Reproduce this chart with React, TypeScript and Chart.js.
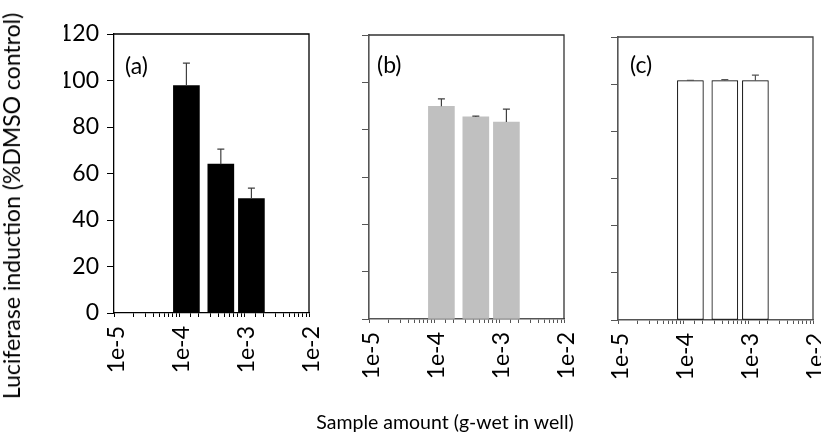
import React, { useEffect, useRef } from "react";
import { Chart, registerables } from "chart.js";

Chart.register(...registerables);

// ---- data ----
const sampleAmounts = [1.3e-4, 4.4e-4, 1.3e-3];
const panelLabels = ["(a)", "(b)", "(c)"];
const valuesA = [97.8, 64.0, 49.2];
const errorsA = [9.7, 6.5, 4.5];
const valuesB = [89.9, 85.4, 83.2];
const errorsB = [3.1, 0.3, 5.5];
const valuesC = [101.5, 101.5, 101.5];
const errorsC = [0.1, 0.4, 2.3];
const xTickValues = [1e-5, 1e-4, 1e-3, 1e-2];
const xTickLabels = ["1e-5", "1e-4", "1e-3", "1e-2"];
const yMin = 0;
const yMax = 120;
const yStep = 20;
const xTitle = "Sample amount (g-wet in well)";
const yTitle = "Luciferase induction (%DMSO control)";

const FONT = "Lato, 'Open Sans', sans-serif";

type PanelCfg = {
  values: number[];
  errors: number[];
  fill: string;
  border: string;
  borderWidth: number;
  axisColor: string;
  axisWidth: number;
  frameColor: string;
  errColor: string;
  showYLabels: boolean;
  padding: { left: number; right: number; top: number; bottom: number };
};

const panels: PanelCfg[] = [
  {
    values: valuesA, errors: errorsA, fill: "#000000", border: "#000000", borderWidth: 0,
    axisColor: "#000000", axisWidth: 1.3, frameColor: "#000000", errColor: "#404040", showYLabels: true,
    padding: { left: 64, right: 512, top: 34, bottom: 63 },
  },
  {
    values: valuesB, errors: errorsB, fill: "#c0c0c0", border: "#c0c0c0", borderWidth: 0,
    axisColor: "#555555", axisWidth: 1.6, frameColor: "#333333", errColor: "#404040", showYLabels: false,
    padding: { left: 319, right: 257, top: 35, bottom: 57 },
  },
  {
    values: valuesC, errors: errorsC, fill: "#ffffff", border: "#000000", borderWidth: 1,
    axisColor: "#555555", axisWidth: 1.6, frameColor: "#444444", errColor: "#555555", showYLabels: false,
    padding: { left: 568, right: 8, top: 37, bottom: 56 },
  },
];

function isPow10(v: number) {
  const l = Math.log10(v);
  return Math.abs(l - Math.round(l)) < 1e-9;
}

function Panel({ cfg }: { cfg: PanelCfg }) {
  const ref = useRef<HTMLCanvasElement>(null);
  useEffect(() => {
    const canvas = ref.current!;
    const frame = {
      id: "frame",
      afterDraw(chart: any) {
        const { ctx, chartArea: a } = chart;
        ctx.save();
        ctx.strokeStyle = cfg.frameColor;
        ctx.lineWidth = 1.3;
        ctx.beginPath();
        ctx.moveTo(a.left, a.top);
        ctx.lineTo(a.right, a.top);
        ctx.lineTo(a.right, a.bottom);
        ctx.stroke();
        ctx.restore();
      },
    };
    const errorBars = {
      id: "errorBars",
      afterDatasetsDraw(chart: any) {
        const { ctx } = chart;
        const yScale = chart.scales.y;
        const meta = chart.getDatasetMeta(0);
        ctx.save();
        ctx.strokeStyle = cfg.errColor;
        ctx.lineWidth = 1.2;
        meta.data.forEach((bar: any, i: number) => {
          const v = cfg.values[i];
          const e = cfg.errors[i];
          const x = bar.x;
          const y0 = yScale.getPixelForValue(v);
          const y1 = yScale.getPixelForValue(v + e);
          ctx.beginPath();
          ctx.moveTo(x, y0);
          ctx.lineTo(x, y1);
          ctx.moveTo(x - 3.5, y1);
          ctx.lineTo(x + 3.5, y1);
          ctx.stroke();
        });
        ctx.restore();
      },
    };
    const chart = new Chart(canvas, {
      type: "bar",
      data: {
        datasets: [
          {
            data: sampleAmounts.map((x, i) => ({ x, y: cfg.values[i] })),
            backgroundColor: cfg.fill,
            borderColor: cfg.border,
            borderWidth: cfg.borderWidth,
            borderSkipped: false,
            barThickness: 26,
          } as any,
        ],
      },
      options: {
        responsive: false,
        animation: false,
        layout: { padding: cfg.padding },
        plugins: { legend: { display: false }, tooltip: { enabled: false }, title: { display: false } },
        scales: {
          x: {
            type: "logarithmic",
            min: xTickValues[0],
            max: xTickValues[xTickValues.length - 1],
            offset: false,
            grid: { display: true, drawOnChartArea: false, drawTicks: true, tickLength: 4, tickColor: cfg.axisColor, offset: false },
            border: { display: true, color: cfg.axisColor, width: cfg.axisWidth },
            ticks: {
              autoSkip: false,
              minRotation: 90,
              maxRotation: 90,
              padding: 9,
              labelOffset: 3,
              color: "#000",
              font: { family: FONT, size: 23 },
              callback: (v: any) => {
                const n = Number(v);
                if (!isPow10(n)) return "";
                const idx = xTickValues.findIndex((t) => Math.abs(Math.log10(t) - Math.log10(n)) < 1e-9);
                return idx >= 0 ? xTickLabels[idx] : "";
              },
            },
            afterFit: (s: any) => {
              s.height = 60;
              s.paddingLeft = 0;
              s.paddingRight = 0;
            },
          } as any,
          y: {
            type: "linear",
            min: yMin,
            max: yMax,
            grid: { display: true, drawOnChartArea: false, drawTicks: true, tickLength: 7, tickColor: cfg.axisColor },
            border: { display: true, color: cfg.axisColor, width: cfg.axisWidth },
            ticks: {
              stepSize: yStep,
              padding: 8,
              color: "#000",
              font: { family: FONT, size: 23 },
              callback: (v: any) => (cfg.showYLabels ? String(v) : ""),
            },
            afterFit: (s: any) => {
              s.width = 50;
              s.paddingTop = 0;
              s.paddingBottom = 0;
            },
          } as any,
        },
      },
      plugins: [frame, errorBars],
    });
    return () => chart.destroy();
  }, [cfg]);
  return (
    <canvas
      ref={ref}
      width={821}
      height={436}
      style={{ position: "absolute", left: 0, top: 0, width: 821, height: 436 }}
    />
  );
}

export default function App() {
  const labelPos = [
    { left: 125, top: 52 },
    { left: 377, top: 51 },
    { left: 630, top: 51 },
  ];
  return (
    <div
      style={{
        position: "fixed",
        left: 0,
        top: 0,
        width: 821,
        height: 436,
        background: "#fff",
        overflow: "hidden",
        fontFamily: FONT,
        color: "#000",
      }}
    >
      {panels.map((p, i) => (
        <Panel key={i} cfg={p} />
      ))}
      {panelLabels.map((t, i) => (
        <div
          key={t}
          style={{ position: "absolute", left: labelPos[i].left, top: labelPos[i].top, fontSize: 23, lineHeight: "26px" }}
        >
          {t}
        </div>
      ))}
      <div
        style={{
          position: "absolute",
          left: 11,
          top: 206,
          transform: "translate(-50%, -50%) rotate(-90deg)",
          whiteSpace: "nowrap",
          fontSize: 23,
          lineHeight: "26px",
        }}
      >
        {yTitle}
      </div>
      <div
        style={{
          position: "absolute",
          left: 445,
          top: 422,
          transform: "translate(-50%, -50%)",
          whiteSpace: "nowrap",
          fontSize: 19.5,
          lineHeight: "24px",
        }}
      >
        {xTitle}
      </div>
    </div>
  );
}
